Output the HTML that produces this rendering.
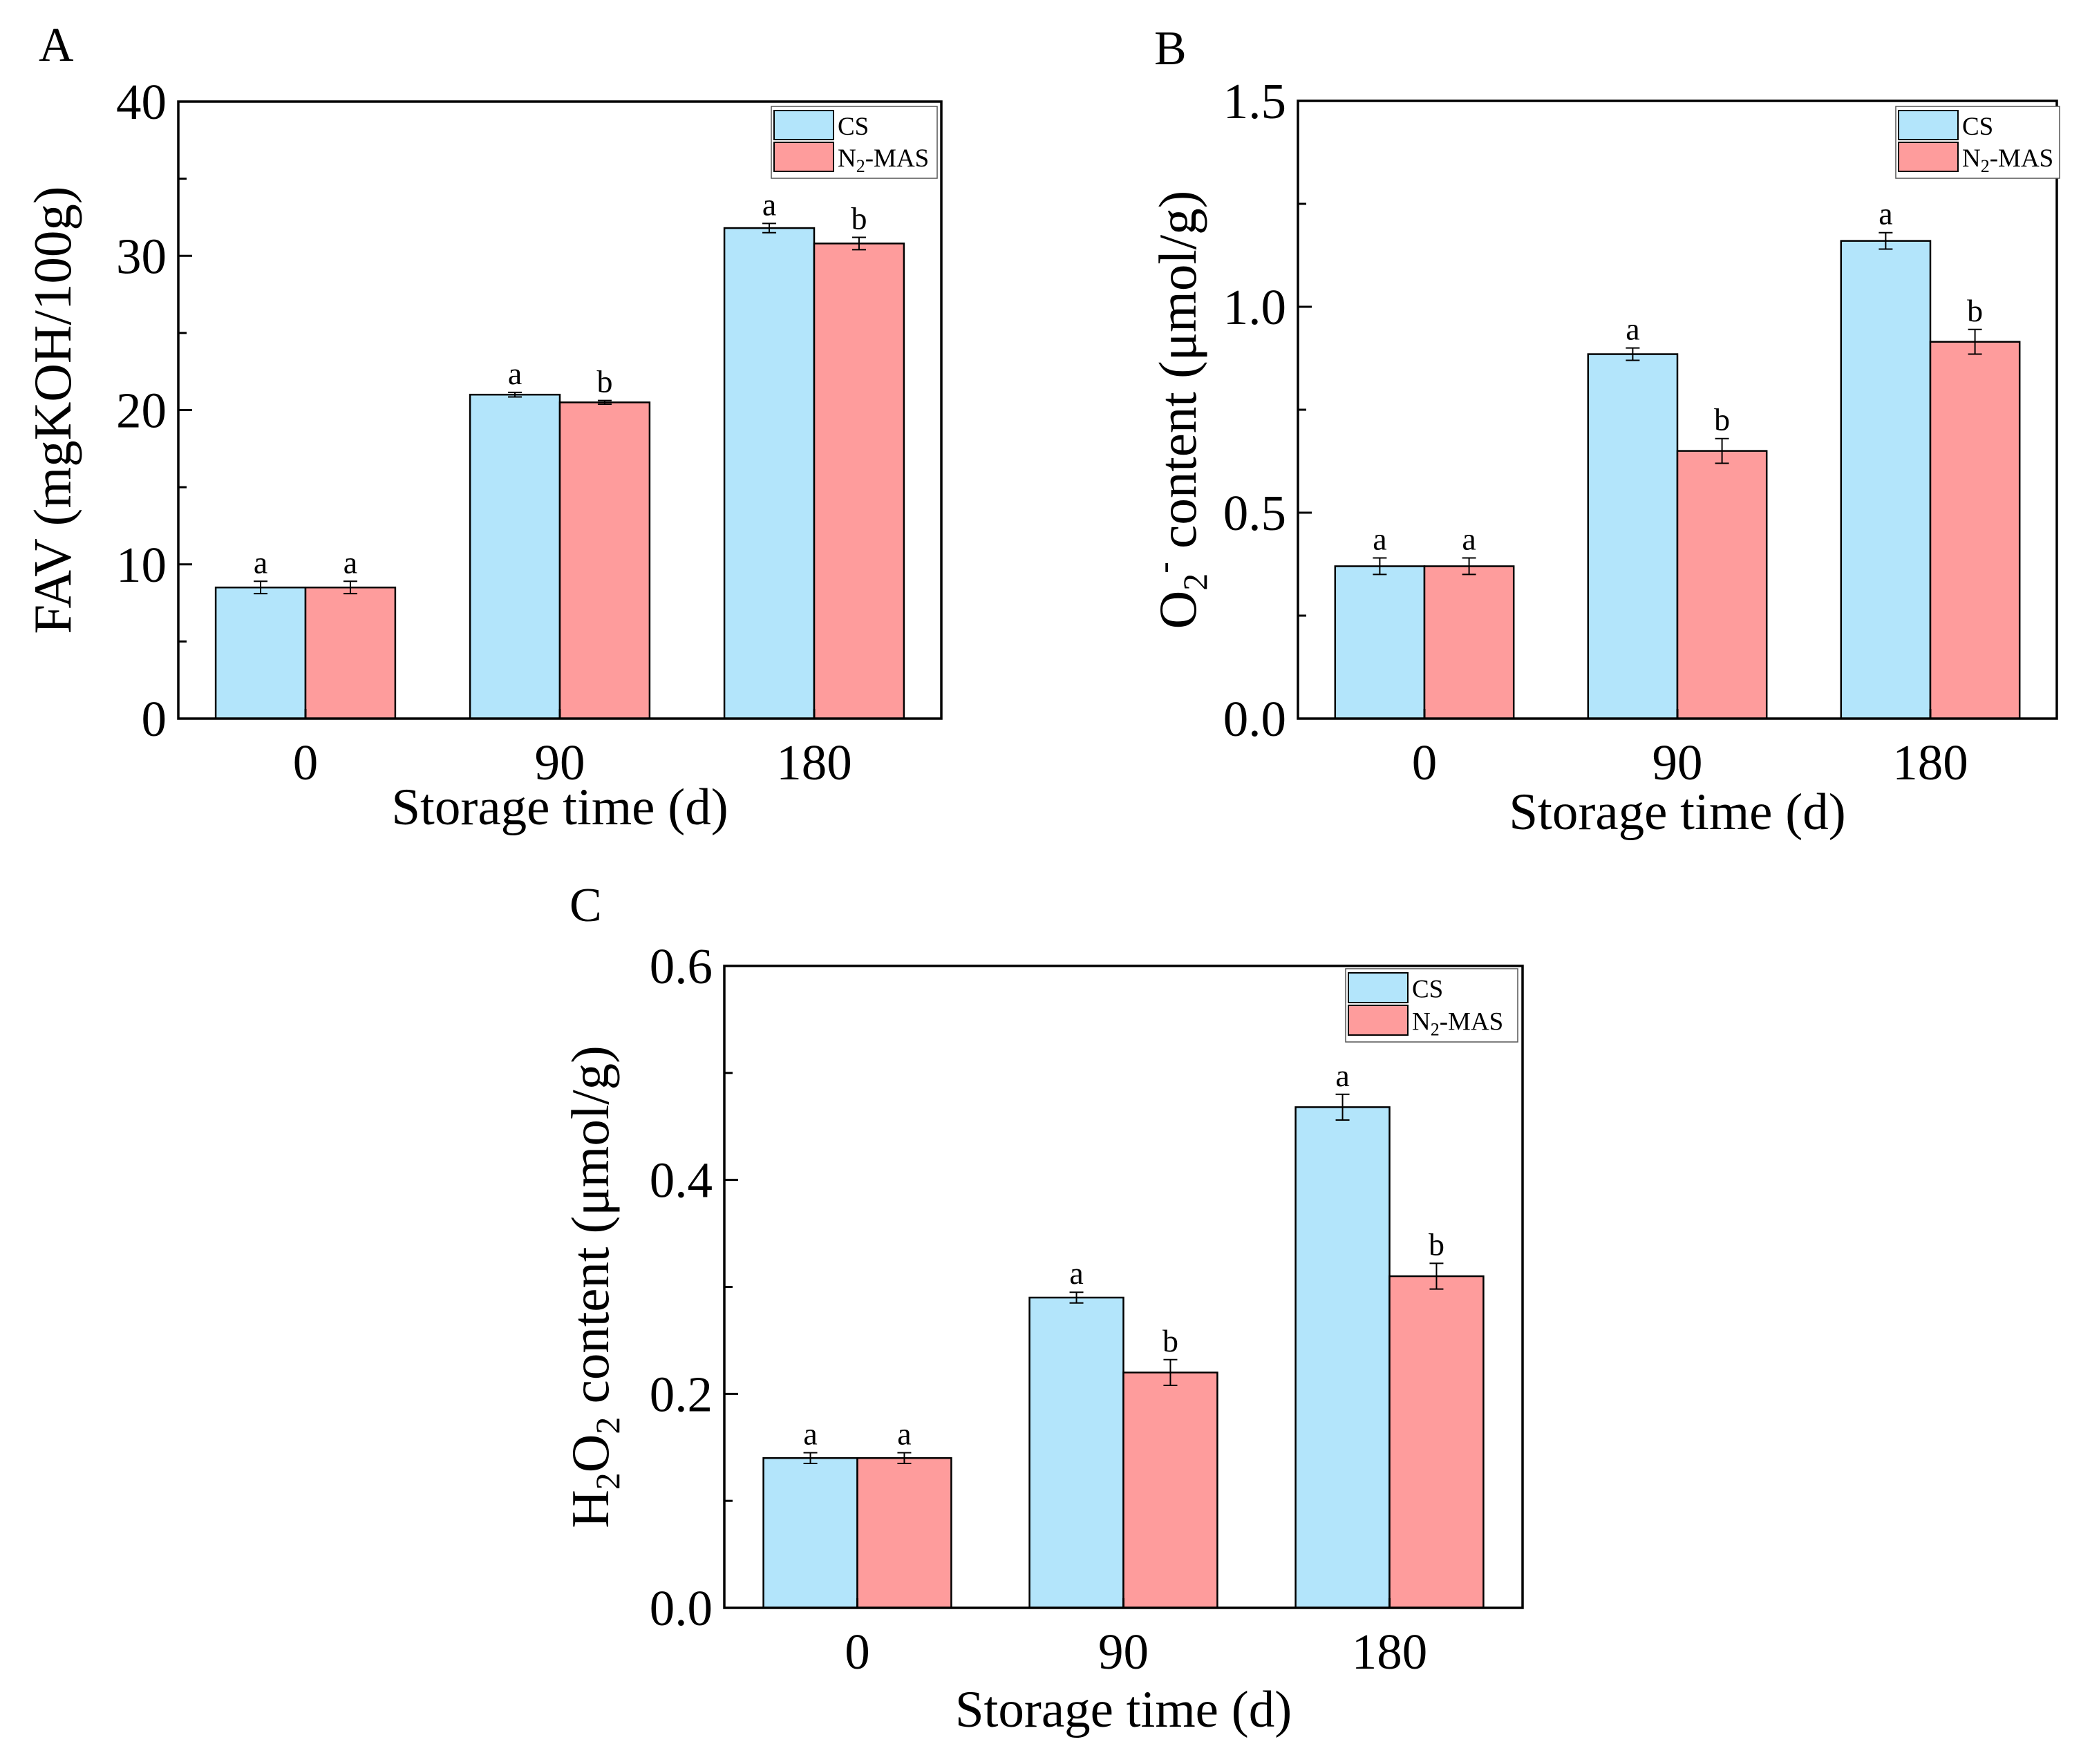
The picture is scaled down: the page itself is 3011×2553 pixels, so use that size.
<!DOCTYPE html>
<html><head><meta charset="utf-8"><style>
body{margin:0;background:#fff}
svg{display:block;font-family:"Liberation Serif",serif}
</style></head><body>
<svg id="fig" width="3011" height="2553" viewBox="0 0 3011 2553" xmlns="http://www.w3.org/2000/svg">
<rect width="3011" height="2553" fill="#fff"/>
<text x="56" y="88" font-size="70">A</text>
<text x="1670" y="93" font-size="70">B</text>
<text x="824" y="1333" font-size="70">C</text>
</svg>
<script>
const categories = ["0","90","180"];
const seriesNames = ["CS","N2-MAS"];
const favCS = [8.5, 21.0, 31.8];
const favN2 = [8.5, 20.5, 30.8];
const favErrCS = [0.4, 0.15, 0.3];
const favErrN2 = [0.4, 0.12, 0.4];
const favLetters = [["a","a"],["a","b"],["a","b"]];
const favTicks = ["0","10","20","30","40"];
const o2CS = [0.37, 0.885, 1.16];
const o2N2 = [0.37, 0.65, 0.915];
const o2ErrCS = [0.02, 0.015, 0.02];
const o2ErrN2 = [0.02, 0.03, 0.03];
const o2Letters = [["a","a"],["a","b"],["a","b"]];
const o2Ticks = ["0.0","0.5","1.0","1.5"];
const h2CS = [0.14, 0.29, 0.468];
const h2N2 = [0.14, 0.22, 0.31];
const h2ErrCS = [0.005, 0.005, 0.012];
const h2ErrN2 = [0.005, 0.012, 0.012];
const h2Letters = [["a","a"],["a","b"],["a","b"]];
const h2Ticks = ["0.0","0.2","0.4","0.6"];

const NS = "http://www.w3.org/2000/svg";
const svg = document.getElementById("fig");
function mk(tag, attrs, parent){
  const e = document.createElementNS(NS, tag);
  for (const k in attrs) e.setAttribute(k, attrs[k]);
  (parent||svg).appendChild(e);
  return e;
}
const colors = ["#b3e5fb","#fe9c9c"];

function panel(id, box, ymax, ticks, cs, n2, ecs, en2, letters, titleHTML, titleX, legendBox, xTitleOff){
  const g = mk("g", {});
  
  
  const L=box[0], R=box[1], T=box[2], B=box[3];
  const y = v => B - v/ymax*(B-T);
  const slot = (R-L)/categories.length;
  const bw = slot*0.353;
  const cx = i => L + slot*(i+0.5);
  const vals=[cs,n2], errs=[ecs,en2];
  for (let i=0;i<categories.length;i++){
    for (let s=0;s<2;s++){
      const x0 = cx(i) + (s===0 ? -bw : 0);
      const r = mk("rect",{x:x0,y:y(vals[s][i]),width:bw,height:B-y(vals[s][i]),fill:colors[s],stroke:"#000","stroke-width":2.5},g);
      
      
      const xm = x0 + bw/2, yt = y(vals[s][i]+errs[s][i]), yb = y(vals[s][i]-errs[s][i]);
      const eb = mk("path",{d:`M${xm} ${yt}V${yb}M${xm-10} ${yt}H${xm+10}M${xm-10} ${yb}H${xm+10}`,stroke:"#000","stroke-width":2,fill:"none"},g);
      
      
      const lt = mk("text",{x:xm,y:yt-12,"font-size":46,"text-anchor":"middle"},g);
      lt.textContent = letters[i][s];
      
      
    }
    const tl = mk("text",{x:cx(i),y:B+88,"font-size":73,"text-anchor":"middle"},g);
    tl.textContent = categories[i];
    
    
    mk("line",{x1:cx(i),x2:cx(i),y1:B,y2:B-14,stroke:"#000","stroke-width":3},g);
  }
  const n = ticks.length-1;
  for (let k=0;k<=n*2;k++){
    const v = ymax*k/(n*2), yy = y(v);
    mk("line",{x1:L,x2:L+(k%2?12:20),y1:yy,y2:yy,stroke:"#000","stroke-width":3},g);
    if (k%2===0){
      const t = mk("text",{x:L-17,y:yy+25,"font-size":73,"text-anchor":"end"},g);
      t.textContent = ticks[k/2];
      
      
    }
  }
  const ax = mk("rect",{x:L,y:T,width:R-L,height:B-T,fill:"none",stroke:"#000","stroke-width":3.5},g);
  
  
  const xt = mk("text",{x:(L+R)/2,y:B+xTitleOff,"font-size":75,"text-anchor":"middle"},g);
  xt.textContent = "Storage time (d)";
  
  
  const yt = mk("text",{x:0,y:0,"font-size":77,"text-anchor":"middle",transform:`translate(${titleX},${(T+B)/2}) rotate(-90)`},g);
  yt.innerHTML = titleHTML;
  
  
  const [lx,ly,lw,lh] = legendBox;
  const lg = mk("g",{},g);
  
  
  mk("rect",{x:lx,y:ly,width:lw,height:lh,fill:"#fff",stroke:"#555","stroke-width":1.5},lg);
  const labels = ["CS",'N<tspan font-size="26" dy="8">2</tspan><tspan dy="-8">-MAS</tspan>'];
  for (let s=0;s<2;s++){
    const ry = ly+6+s*(lh-12)/2;
    const e = mk("rect",{x:lx+4,y:ry,width:86,height:(lh-12)/2-4,fill:colors[s],stroke:"#000","stroke-width":2},lg);
    
    
    const t = mk("text",{x:lx+96,y:ry+(lh-12)/4+12,"font-size":37},lg);
    t.innerHTML = labels[s];
    
    
  }
}
panel("a",[258,1362,147,1040],40,favTicks,favCS,favN2,favErrCS,favErrN2,favLetters,"FAV (mgKOH/100g)",102,[1116,154,240,104],153);
panel("b",[1878,2976,146,1040],1.5,o2Ticks,o2CS,o2N2,o2ErrCS,o2ErrN2,o2Letters,'O<tspan font-size="50" dy="16">2</tspan><tspan font-size="50" dy="-46">-</tspan><tspan dy="30"> content (μmol/g)</tspan>',1730,[2743,154,237,104],160);
panel("c",[1048,2203,1398,2327],0.6,h2Ticks,h2CS,h2N2,h2ErrCS,h2ErrN2,h2Letters,'H<tspan font-size="50" dy="16">2</tspan><tspan dy="-16">O</tspan><tspan font-size="50" dy="16">2</tspan><tspan dy="-16"> content (μmol/g)</tspan>',880,[1947,1402,249,106],172);
</script>
</body></html>
